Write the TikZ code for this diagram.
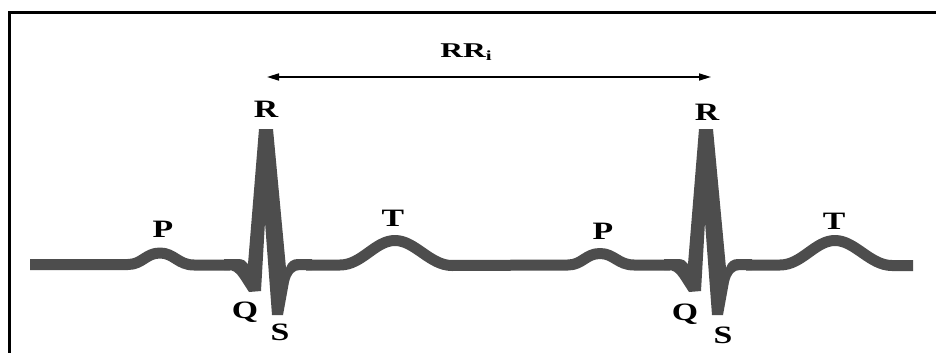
\documentclass[tikz,border=0pt]{standalone}
\usepackage{fontspec}
\setmainfont{Liberation Serif}
\usetikzlibrary{arrows.meta}
\definecolor{wavegray}{RGB}{77,77,77}
\tikzset{
  wave/.style={draw=wavegray, line width=11pt, line join=round, line cap=butt},
  qrs/.style={fill=wavegray, draw=none},
  lbl/.style={anchor=base, inner sep=0pt, font=\bfseries\fontsize{25}{30}\selectfont},
  frameline/.style={draw=black, line width=3pt, line join=miter},
  interval/.style={draw=black, line width=1.6pt, {Triangle[length=12pt,width=7pt]}-{Triangle[length=12pt,width=7pt]}}
}
\newcommand{\wide}[1]{\scalebox{1.35}[1]{#1}}
\newcommand{\wider}[1]{\scalebox{1.5}[1]{#1}}
\begin{document}
\begin{tikzpicture}[x=1pt, y=-1pt]
  \useasboundingbox (0,0) rectangle (937,353);
  \fill[white] (0,0) rectangle (937,353);

  % open frame: top and left edges only
  \draw[frameline] (9.5,353) -- (9.5,13) -- (936,13);

  % baseline, P and T waves
  \draw[wave] (30,264.5) -- (128,264.5)
    .. controls (142,264.5) and (146,253) .. (160,253)
    .. controls (174,253) and (178,265) .. (194,265) -- (230,265);
  \draw[wave] (306,265) -- (340,265)
    .. controls (362,265) and (375,240.5) .. (395,240.5)
    .. controls (415,240.5) and (430,265.5) .. (452,265.5) -- (568,265)
    .. controls (582,265) and (586,253.5) .. (600,253.5)
    .. controls (614,253.5) and (618,265) .. (634,265) -- (670,265);
  \draw[wave] (746,265) -- (780,265)
    .. controls (802,265) and (815,240.5) .. (835,240.5)
    .. controls (855,240.5) and (870,265.5) .. (892,265.5) -- (913,265.5);

  % QRS complexes
  \foreach \o in {0,440} {
    \begin{scope}[xshift=\o pt]
      \path[qrs] (224,259) -- (238,259)
        .. controls (243,259) and (246,261) .. (248,264)
        -- (259,129) -- (273,129) -- (286,268)
        .. controls (288,262) and (292,259) .. (298,259) -- (312,259)
        -- (312,270) -- (300,270)
        .. controls (294,270) and (291,274) .. (289,282)
        -- (283,315) -- (272,315) -- (265,222) -- (261,291) -- (249,292)
        -- (240,278) .. controls (236,272) and (233,270) .. (228,270)
        -- (224,270) -- cycle;
    \end{scope}
  }

  % wave labels
  \node[lbl] (p1) at (163,237) {\wide{P}};
  \node[lbl] (q1) at (245,318) {\wide{Q}};
  \node[lbl] (r1) at (266,117) {\wide{R}};
  \node[lbl] (s1) at (280,340) {\wide{S}};
  \node[lbl] (t1) at (393,226) {\wide{T}};
  \node[lbl] (p2) at (603,239) {\wide{P}};
  \node[lbl] (q2) at (685,320) {\wide{Q}};
  \node[lbl] (r2) at (707,120) {\wide{R}};
  \node[lbl] (s2) at (723,343) {\wide{S}};
  \node[lbl] (t2) at (834,229) {\wide{T}};

  % R-R interval
  \coordinate (a1) at (267,77);
  \coordinate (a2) at (711,77);
  \draw[interval] (a1) -- (a2);
  \node[anchor=base, inner sep=0pt, font=\bfseries\fontsize{21}{25}\selectfont] (rr) at (466,58)
    {\wider{RR\raisebox{-3pt}{\fontsize{14}{14}\selectfont i}}};
\end{tikzpicture}
\end{document}
